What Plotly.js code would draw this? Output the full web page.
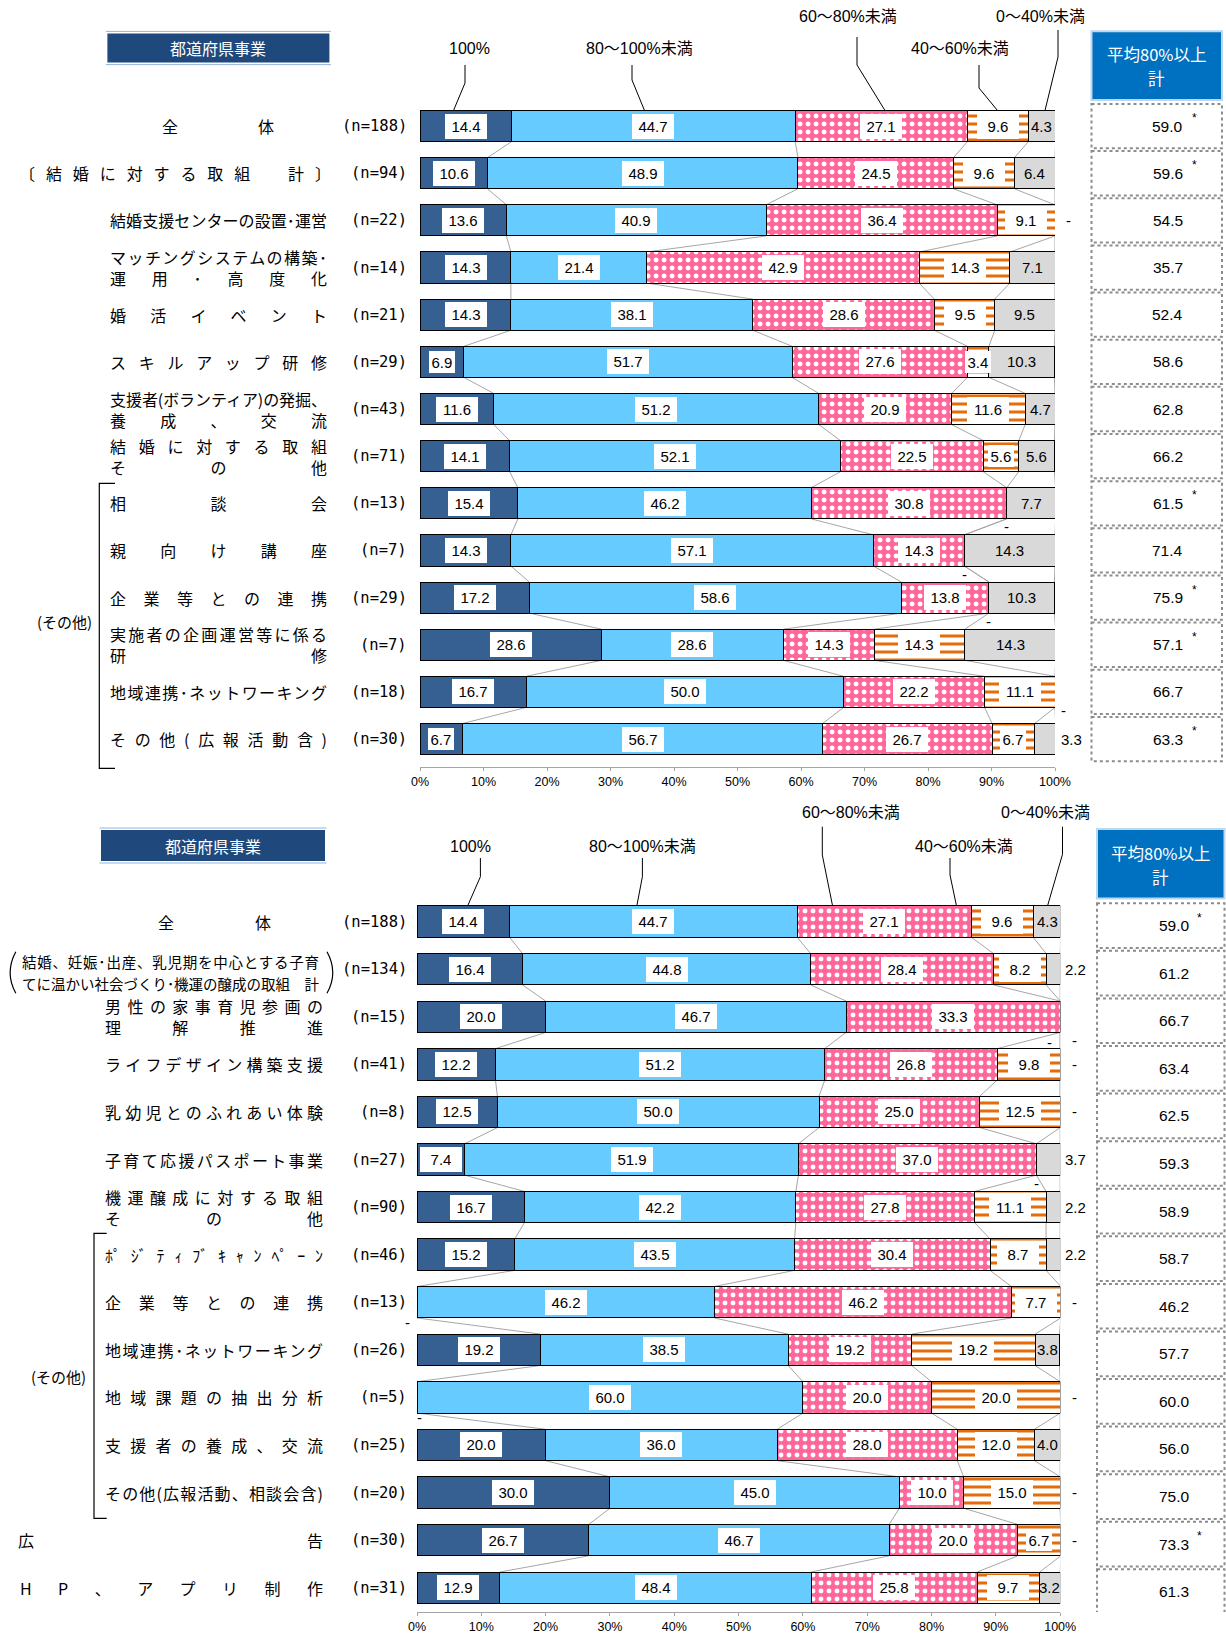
<!DOCTYPE html>
<html>
<head>
<meta charset="utf-8">
<script src="https://cdn.plot.ly/plotly-3.0.1.min.js"></script>
<style>html,body{margin:0;padding:0;background:#fff}#chart{width:1226px;height:1635px}</style>
</head>
<body>
<div id="chart"></div>
<script>
// ================= DATA =================
const seriesNames = ['100%', '80～100%未満', '60～80%未満', '40～60%未満', '0～40%未満'];
const avgHeader = ['平均80%以上', '計'];
const panelTitle = '都道府県事業';
const groupLabel = '(その他)';
const tickVals = [0, 10, 20, 30, 40, 50, 60, 70, 80, 90, 100];
const tickLabels = ['0%', '10%', '20%', '30%', '40%', '50%', '60%', '70%', '80%', '90%', '100%'];

const topCategories = [
  '全体',
  '〔結婚に対する取組　計〕',
  '結婚支援センターの設置･運営',
  'マッチングシステムの構築･<br>運用･高度化',
  '婚活イベント',
  'スキルアップ研修',
  '支援者(ボランティア)の発掘、<br>養成、交流',
  '結婚に対する取組<br>その他',
  '相談会',
  '親向け講座',
  '企業等との連携',
  '実施者の企画運営等に係る<br>研修',
  '地域連携･ネットワーキング',
  'その他(広報活動含)'
];
const topN    = [188, 94, 22, 14, 21, 29, 43, 71, 13, 7, 29, 7, 18, 30];
const top100  = [14.4, 10.6, 13.6, 14.3, 14.3, 6.9, 11.6, 14.1, 15.4, 14.3, 17.2, 28.6, 16.7, 6.7];
const top80   = [44.7, 48.9, 40.9, 21.4, 38.1, 51.7, 51.2, 52.1, 46.2, 57.1, 58.6, 28.6, 50.0, 56.7];
const top60   = [27.1, 24.5, 36.4, 42.9, 28.6, 27.6, 20.9, 22.5, 30.8, 14.3, 13.8, 14.3, 22.2, 26.7];
const top40   = [9.6, 9.6, 9.1, 14.3, 9.5, 3.4, 11.6, 5.6, 0, 0, 0, 14.3, 11.1, 6.7];
const top0    = [4.3, 6.4, 0, 7.1, 9.5, 10.3, 4.7, 5.6, 7.7, 14.3, 10.3, 14.3, 0, 3.3];
const topAvg  = [59.0, 59.6, 54.5, 35.7, 52.4, 58.6, 62.8, 66.2, 61.5, 71.4, 75.9, 57.1, 66.7, 63.3];
const topStar = [1, 1, 0, 0, 0, 0, 0, 0, 1, 0, 1, 1, 0, 1];

const botCategories = [
  '全体',
  '結婚、妊娠･出産、乳児期を中心とする子育<br>てに温かい社会づくり･機運の醸成の取組　計',
  '男性の家事育児参画の<br>理解推進',
  'ライフデザイン構築支援',
  '乳幼児とのふれあい体験',
  '子育て応援パスポート事業',
  '機運醸成に対する取組<br>その他',
  'ﾎﾟｼﾞﾃｨﾌﾞｷｬﾝﾍﾟｰﾝ',
  '企業等との連携',
  '地域連携･ネットワーキング',
  '地域課題の抽出分析',
  '支援者の養成、交流',
  'その他(広報活動、相談会含)',
  '広告',
  'HP、アプリ制作'
];
const botN    = [188, 134, 15, 41, 8, 27, 90, 46, 13, 26, 5, 25, 20, 30, 31];
const bot100  = [14.4, 16.4, 20.0, 12.2, 12.5, 7.4, 16.7, 15.2, 0, 19.2, 0, 20.0, 30.0, 26.7, 12.9];
const bot80   = [44.7, 44.8, 46.7, 51.2, 50.0, 51.9, 42.2, 43.5, 46.2, 38.5, 60.0, 36.0, 45.0, 46.7, 48.4];
const bot60   = [27.1, 28.4, 33.3, 26.8, 25.0, 37.0, 27.8, 30.4, 46.2, 19.2, 20.0, 28.0, 10.0, 20.0, 25.8];
const bot40   = [9.6, 8.2, 0, 9.8, 12.5, 0, 11.1, 8.7, 7.7, 19.2, 20.0, 12.0, 15.0, 6.7, 9.7];
const bot0    = [4.3, 2.2, 0, 0, 0, 3.7, 2.2, 2.2, 0, 3.8, 0, 4.0, 0, 0, 3.2];
const botAvg  = [59.0, 61.2, 66.7, 63.4, 62.5, 59.3, 58.9, 58.7, 46.2, 57.7, 60.0, 56.0, 75.0, 73.3, 61.3];
const botStar = [1, 0, 0, 0, 0, 0, 0, 0, 0, 0, 0, 0, 0, 1, 0];

// ================= STYLE / LAYOUT CONFIG =================
const W = 1226, H = 1635;
const PX = v => v / W;
const PY = v => 1 - v / H;
const CJK = '"Noto Sans CJK JP", "Noto Sans CJK SC", sans-serif';
const NUM = '"Liberation Sans", Arial, "Noto Sans CJK JP", sans-serif';
const MONO = '"DejaVu Sans Mono", "Liberation Mono", monospace';

const seriesColors = ['#366092', '#66CCFF', '#FF6699', '#FFFFFF', '#D9D9D9'];
const seriesPatterns = [
  null, null,
  {shape: '.', fgcolor: '#FFFFFF', bgcolor: '#FF6699', size: 8, solidity: 0.3, fillmode: 'replace'},
  {shape: '-', fgcolor: '#E46C0A', bgcolor: '#FFFFFF', size: 8, solidity: 0.38, fillmode: 'replace'},
  null
];
const BARW = 0.66;

const panels = [
  {
    xa: 'x', ya: 'y', x0: 420.1, x1: 1055.0, row0: 126.1, step: 47.15, top: 0, bot: 767,
    lblX0: 110, lblX1: 327, lblOver: {0: [162, 274], 1: [19, 331]}, lineOff: {},
    lblFont: {}, nRight: 407.5,
    cellX0: 1091.5, cellX1: 1222, cellDy: 0, valX: 1167.6, starX: 1194.7,
    head: [1091.5, 31.3, 1222, 100], headTextY: [54.2, 78.2],
    title: [107.4, 33.4, 329.4, 62.6],
    bracket: {x: 99.3, xt: 115, y0: 483.3, y1: 768.3}, groupPos: [64, 621.7],
    legendPos: [[469, 48], [639, 48], [847.5, 16], [960, 48], [1040, 16]],
    leaders: [
      [[465, 65], [465, 83], [453.5, 110.5]],
      [[632, 65], [632, 80], [644.5, 110.5]],
      [[857, 37], [857, 65], [885, 110.5]],
      [[979, 65], [979, 88], [997.5, 110.5]],
      [[1058, 30], [1058, 57], [1045, 110.5]]
    ],
    outsideGray: [13], outShift: 16, zeroShift: 13,
    zeroOver: {'12-4': {dy: 0.4, xs: 8}},
    parens: null
  },
  {
    xa: 'x2', ya: 'y2', x0: 417.0, x1: 1060.2, row0: 921.6, step: 47.58, top: 795, bot: 1612,
    lblX0: 105, lblX1: 323, lblOver: {0: [158, 271], 1: [22, 319], 13: [18, 323], 14: [20, 323]},
    lineOff: {1: [7.5, -14]}, lblFont: {1: 14.5}, nRight: 408.3,
    cellX0: 1097, cellX1: 1224.5, cellDy: 4, valX: 1174, starX: 1199,
    head: [1097, 829, 1224.5, 898.6], headTextY: [852.8, 876.7],
    title: [101, 830, 325, 861],
    bracket: {x: 94, xt: 106.7, y0: 1233.3, y1: 1518.3}, groupPos: [58.5, 1376.7],
    legendPos: [[470.6, 846], [642, 846], [851, 812.5], [964, 846], [1045, 812.5]],
    leaders: [
      [[480.4, 858], [480.4, 876.7], [467.6, 906]],
      [[642.4, 858], [642.4, 876.7], [636.8, 906]],
      [[822.3, 826.7], [822.3, 855], [832.6, 906]],
      [[950, 858], [950, 875], [956.5, 906]],
      [[1062.5, 826.7], [1062.5, 854.3], [1047.5, 906]]
    ],
    outsideGray: [1, 5, 6, 7], outShift: 15.5, zeroShift: 14,
    zeroOver: {'2-3': {dy: 0.55, xs: -11}, '2-4': {dy: 0.5}, '8-0': {dy: 0.42, xs: -10}, '10-0': {dy: 0.43, xs: 2}},
    parens: {l: [15.8, 4.5], r: [327, 338.5], y0: 951.7, y1: 993.3}
  }
];

const panelData = [
  {cats: topCategories, n: topN, S: [top100, top80, top60, top40, top0], avg: topAvg, star: topStar},
  {cats: botCategories, n: botN, S: [bot100, bot80, bot60, bot40, bot0], avg: botAvg, star: botStar}
];

// ================= BUILD =================
const traces = [];
const shapes = [];
const annotations = [];
const justify = [];
function addAnn(a, w) { annotations.push(Object.assign({showarrow: false}, a)); justify.push(w || null); }
const layout = {
  width: W, height: H, margin: {l: 0, r: 0, t: 0, b: 0},
  paper_bgcolor: '#FFFFFF', plot_bgcolor: 'rgba(0,0,0,0)',
  barmode: 'stack', showlegend: false, font: {family: NUM, color: '#000'}
};

panels.forEach((cfg, pi) => {
  const d = panelData[pi];
  const nRows = d.cats.length;
  const idx = d.cats.map((_, i) => i);
  const axX = pi === 0 ? 'xaxis' : 'xaxis2';
  const axY = pi === 0 ? 'yaxis' : 'yaxis2';
  layout[axX] = {
    domain: [cfg.x0 / W, cfg.x1 / W], range: [0, 100], anchor: cfg.ya,
    tickvals: tickVals, ticktext: tickLabels, ticks: 'outside', ticklen: 3,
    tickcolor: '#A6A6A6', showline: true, linecolor: '#A6A6A6', linewidth: 1,
    showgrid: false, zeroline: false, fixedrange: true,
    tickfont: {family: '"Liberation Sans Narrow", "Liberation Sans", Arial', size: 12.5, color: '#000'}
  };
  layout[axY] = {
    domain: [1 - cfg.bot / H, 1 - cfg.top / H],
    range: [(cfg.bot - cfg.row0) / cfg.step, (cfg.top - cfg.row0) / cfg.step],
    anchor: cfg.xa, showticklabels: false, showgrid: false, zeroline: false,
    showline: false, ticks: '', fixedrange: true
  };

  // bars
  d.S.forEach((vals, k) => {
    const marker = {color: seriesColors[k], line: {color: '#000000', width: 1}};
    if (seriesPatterns[k]) marker.pattern = seriesPatterns[k];
    traces.push({
      type: 'bar', orientation: 'h', name: seriesNames[k], x: vals, y: idx,
      xaxis: cfg.xa, yaxis: cfg.ya, width: BARW, marker: marker,
      hoverinfo: 'skip', showlegend: false
    });
  });

  // cumulative sums
  const cum = d.S.map(() => []);
  for (let i = 0; i < nRows; i++) {
    let s = 0;
    for (let k = 0; k < 5; k++) { s += d.S[k][i]; cum[k][i] = Math.round(s * 10) / 10; }
  }

  // series (connector) lines
  for (let i = 0; i < nRows - 1; i++) {
    for (let k = 0; k < 5; k++) {
      shapes.push({
        type: 'line', xref: cfg.xa, yref: cfg.ya, layer: 'below',
        x0: cum[k][i], y0: i + BARW / 2, x1: cum[k][i + 1], y1: i + 1 - BARW / 2,
        line: {color: '#A6A6A6', width: 1}
      });
    }
  }

  // value labels
  const spanPx = cfg.x1 - cfg.x0;
  const numFont = {family: NUM, size: 15, color: '#000'};
  for (let i = 0; i < nRows; i++) {
    for (let k = 0; k < 5; k++) {
      const v = d.S[k][i];
      const key = i + '-' + k;
      if (v === 0) {
        const o = cfg.zeroOver[key] || {};
        if (k === 4) {
          addAnn({xref: cfg.xa, yref: cfg.ya, x: 100, y: i + (o.dy || 0),
            xshift: (o.xs !== undefined ? o.xs : cfg.zeroShift), text: '-', font: numFont,
            xanchor: 'center', yanchor: 'middle'});
        } else {
          addAnn({xref: cfg.xa, yref: cfg.ya, x: cum[k][i], y: i + (o.dy !== undefined ? o.dy : 0.5),
            xshift: o.xs || 0, text: '-', font: numFont, xanchor: 'center', yanchor: 'middle'});
        }
        continue;
      }
      const txt = v.toFixed(1);
      if (k === 4 && cfg.outsideGray.indexOf(i) >= 0) {
        addAnn({xref: cfg.xa, yref: cfg.ya, x: 100, y: i, xshift: cfg.outShift, text: txt,
          font: numFont, xanchor: 'center', yanchor: 'middle'});
        continue;
      }
      const segPx = v / 100 * spanPx;
      const a = {xref: cfg.xa, yref: cfg.ya, x: cum[k][i] - v / 2, y: i, text: txt, font: numFont,
        xanchor: 'center', yanchor: 'middle', borderwidth: 0};
      if (k < 4) {
        a.bgcolor = '#FFFFFF';
        if (segPx >= 46) { a.width = 34; a.borderpad = 4; } else { a.borderpad = 2.5; }
      } else {
        a.borderpad = 1;
      }
      addAnn(a);
    }
  }

  // category labels (justified), n labels
  for (let i = 0; i < nRows; i++) {
    const lines = d.cats[i].split('<br>');
    const ext = cfg.lblOver[i] || [cfg.lblX0, cfg.lblX1];
    const offs = lines.length === 1 ? [0] : (cfg.lineOff[i] || [10.5, -10.5]);
    const fs = cfg.lblFont[i] || 16;
    lines.forEach((ln, j) => {
      addAnn({xref: 'paper', yref: cfg.ya, x: PX(ext[0]), y: i, yshift: offs[j], text: ln,
        xanchor: 'left', yanchor: 'middle', align: 'left', borderpad: 0, borderwidth: 0,
        font: {family: CJK, size: fs, color: '#000'}}, ext[1] - ext[0]);
    });
    addAnn({xref: 'paper', yref: cfg.ya, x: PX(cfg.nRight), y: i, text: '(n=' + d.n[i] + ')',
      xanchor: 'right', yanchor: 'middle', borderpad: 0, font: {family: MONO, size: 15.5, color: '#000'}});
  }

  // average cells
  const dyR = cfg.cellDy / cfg.step;
  for (let i = 0; i < nRows; i++) {
    shapes.push({type: 'rect', xref: 'paper', yref: cfg.ya, x0: PX(cfg.cellX0), x1: PX(cfg.cellX1),
      y0: i - 0.47 + dyR, y1: i + 0.47 + dyR, fillcolor: '#FFFFFF',
      line: {color: '#8C8C8C', width: 2, dash: 'dot'}, layer: 'below'});
    addAnn({xref: 'paper', yref: cfg.ya, x: PX(cfg.valX), y: i, yshift: -cfg.cellDy, text: d.avg[i].toFixed(1),
      xanchor: 'center', yanchor: 'middle', font: {family: NUM, size: 15.5, color: '#000'}});
    if (d.star[i]) {
      addAnn({xref: 'paper', yref: cfg.ya, x: PX(cfg.starX), y: i, yshift: -cfg.cellDy + 8, text: '*',
        xanchor: 'center', yanchor: 'middle', font: {family: NUM, size: 12, color: '#000'}});
    }
  }

  // header box
  const hb = cfg.head;
  shapes.push({type: 'rect', xref: 'paper', yref: 'paper', x0: PX(hb[0]), x1: PX(hb[2]), y0: PY(hb[3]), y1: PY(hb[1]),
    fillcolor: '#0070C0', line: {color: '#BDD7EE', width: 2}});
  avgHeader.forEach((t, j) => addAnn({xref: 'paper', yref: 'paper', x: PX((hb[0] + hb[2]) / 2), y: PY(cfg.headTextY[j]),
    text: t, xanchor: 'center', yanchor: 'middle', font: {family: CJK, size: 16.5, color: '#FFFFFF'}}));

  // title box
  const tb = cfg.title;
  shapes.push({type: 'rect', xref: 'paper', yref: 'paper', x0: PX(tb[0]), x1: PX(tb[2]), y0: PY(tb[3]), y1: PY(tb[1]),
    fillcolor: '#1F497D', line: {width: 0}});
  shapes.push({type: 'line', xref: 'paper', yref: 'paper', x0: PX(tb[0] - 1.5), x1: PX(tb[2] + 1.5), y0: PY(tb[1] - 2), y1: PY(tb[1] - 2),
    line: {color: '#95B3D7', width: 1}});
  shapes.push({type: 'line', xref: 'paper', yref: 'paper', x0: PX(tb[0] - 1.5), x1: PX(tb[2] + 1.5), y0: PY(tb[3] + 2), y1: PY(tb[3] + 2),
    line: {color: '#95B3D7', width: 1}});
  addAnn({xref: 'paper', yref: 'paper', x: PX((tb[0] + tb[2]) / 2), y: PY((tb[1] + tb[3]) / 2), text: panelTitle,
    xanchor: 'center', yanchor: 'middle', font: {family: CJK, size: 16, color: '#FFFFFF'}});

  // legend labels + leader lines
  seriesNames.forEach((nm, k) => {
    const p = cfg.legendPos[k];
    addAnn({xref: 'paper', yref: 'paper', x: PX(p[0]), y: PY(p[1]), text: nm, xanchor: 'center', yanchor: 'middle',
      font: {family: NUM, size: 16, color: '#000'}});
    const L = cfg.leaders[k];
    shapes.push({type: 'path', xref: 'paper', yref: 'paper',
      path: 'M' + L.map(q => PX(q[0]) + ',' + PY(q[1])).join(' L'), line: {color: '#000000', width: 1}});
  });

  // group bracket
  const b = cfg.bracket;
  shapes.push({type: 'path', xref: 'paper', yref: 'paper',
    path: 'M' + PX(b.xt) + ',' + PY(b.y0) + ' L' + PX(b.x) + ',' + PY(b.y0) + ' L' + PX(b.x) + ',' + PY(b.y1) + ' L' + PX(b.xt) + ',' + PY(b.y1),
    line: {color: '#000000', width: 1.2}});
  addAnn({xref: 'paper', yref: 'paper', x: PX(cfg.groupPos[0]), y: PY(cfg.groupPos[1]), text: groupLabel,
    xanchor: 'center', yanchor: 'middle', font: {family: CJK, size: 15, color: '#000'}});

  // big parentheses
  if (cfg.parens) {
    const pr = cfg.parens, ym = (pr.y0 + pr.y1) / 2;
    [pr.l, pr.r].forEach(c => shapes.push({type: 'path', xref: 'paper', yref: 'paper',
      path: 'M' + PX(c[0]) + ',' + PY(pr.y0) + ' Q' + PX(c[1]) + ',' + PY(ym) + ' ' + PX(c[0]) + ',' + PY(pr.y1),
      line: {color: '#000000', width: 1.2}}));
  }
});

layout.shapes = shapes;
layout.annotations = annotations;

const gd = document.getElementById('chart');
Plotly.newPlot(gd, traces, layout, {staticPlot: true, displayModeBar: false}).then(() => {
  gd.querySelectorAll('g.annotation').forEach(g => {
    const i = +g.getAttribute('data-index');
    const w = justify[i];
    if (w) {
      const t = g.querySelector('text.annotation-text') || g.querySelector('text');
      if (t) { t.setAttribute('textLength', w); t.setAttribute('lengthAdjust', 'spacing'); }
    }
  });
});
</script>
</body>
</html>
